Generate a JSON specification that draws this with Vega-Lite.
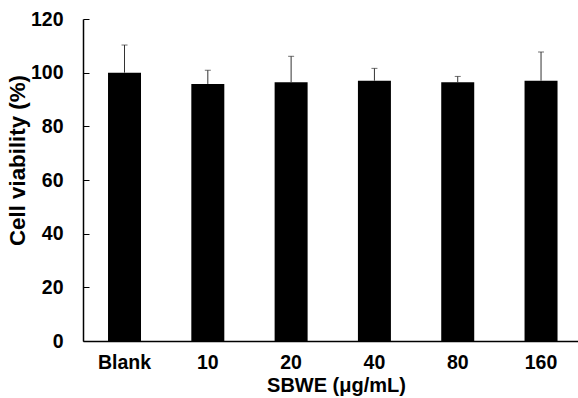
{
  "$schema": "https://vega.github.io/schema/vega-lite/v6.json",
  "width": 495,
  "height": 322,
  "autosize": {"type": "none"},
  "padding": {"left": 83, "top": 19, "right": 0, "bottom": 57},
  "background": "white",
  "config": {
    "view": {"stroke": null},
    "axis": {
      "labelFont": "Liberation Sans",
      "titleFont": "Liberation Sans",
      "labelFontWeight": "bold",
      "titleFontWeight": "bold",
      "labelColor": "#000000",
      "titleColor": "#000000",
      "domainColor": "#000000",
      "tickColor": "#000000",
      "grid": false
    }
  },
  "data": {
    "values": [
      {"group": "Blank", "viability": 100.0, "upper": 110.3},
      {"group": "10", "viability": 95.8, "upper": 100.9},
      {"group": "20", "viability": 96.4, "upper": 106.1},
      {"group": "40", "viability": 97.0, "upper": 101.6},
      {"group": "80", "viability": 96.4, "upper": 98.6},
      {"group": "160", "viability": 97.0, "upper": 107.7}
    ]
  },
  "encoding": {
    "x": {
      "field": "group",
      "type": "nominal",
      "sort": null,
      "scale": {"paddingInner": 0.604, "paddingOuter": 0.273, "align": 0.55},
      "axis": {
        "title": "SBWE (μg/mL)",
        "labelAngle": 0,
        "ticks": false,
        "labelPadding": 12,
        "labelFontSize": 19.5,
        "titleFontSize": 20,
        "titleX": 253,
        "titleY": 34,
        "titleAlign": "center",
        "titleBaseline": "top",
        "domainWidth": 1.5
      }
    }
  },
  "layer": [
    {
      "mark": {"type": "bar", "color": "#000000"},
      "encoding": {
        "y": {
          "field": "viability",
          "type": "quantitative",
          "scale": {"domain": [0, 120], "nice": false},
          "axis": {
            "title": "Cell viability (%)",
            "values": [0, 20, 40, 60, 80, 100, 120],
            "tickSize": -6,
            "labelPadding": 26,
            "labelFontSize": 19.5,
            "titleFontSize": 22.3,
            "titleX": -54,
            "titleY": 141,
            "titleAngle": -90,
            "titleAlign": "center",
            "titleBaseline": "bottom",
            "domainWidth": 1.5
          }
        }
      }
    },
    {
      "mark": {"type": "rule", "color": "#333333", "strokeWidth": 1},
      "encoding": {
        "y": {"field": "viability", "type": "quantitative"},
        "y2": {"field": "upper"}
      }
    },
    {
      "mark": {"type": "tick", "color": "#333333", "thickness": 1, "size": 6, "orient": "horizontal"},
      "encoding": {
        "y": {"field": "upper", "type": "quantitative"}
      }
    }
  ]
}
